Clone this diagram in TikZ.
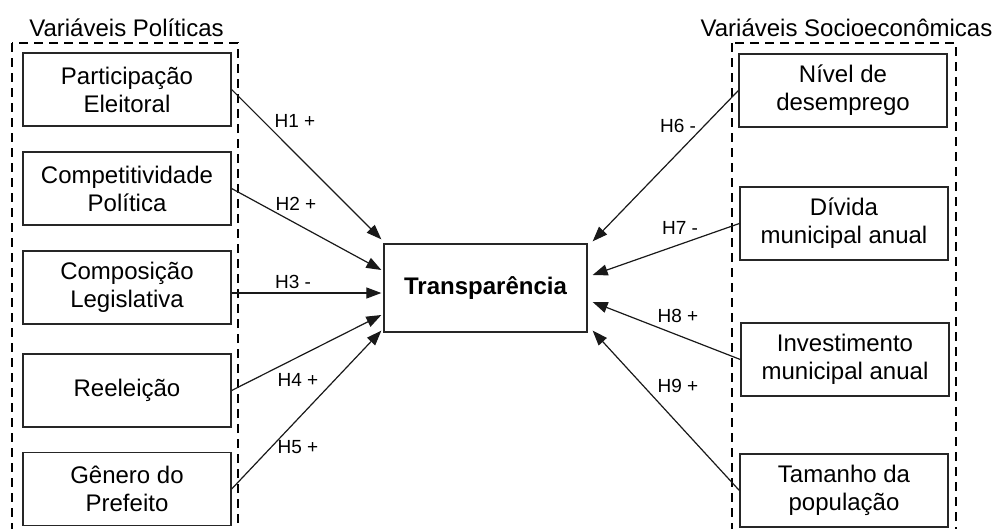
\documentclass[tikz,border=0pt]{standalone}
\usepackage{fontspec}
\setmainfont{Liberation Sans}
\usetikzlibrary{arrows.meta}
\begin{document}
\begin{tikzpicture}[x=1pt,y=-1pt,
  var/.style={draw=black!85, line width=1.3pt, minimum width=208pt, minimum height=73pt,
    align=center, inner sep=0pt, font=\fontsize{24}{28}\selectfont},
  grp/.style={draw=black, line width=2.6pt, dash pattern=on 9pt off 6pt},
  ttl/.style={anchor=base, inner sep=0pt, font=\fontsize{24}{28}\selectfont},
  hyp/.style={inner sep=0pt, font=\fontsize{19}{22}\selectfont},
  arr/.style={draw=black!90, line width=1.2pt, -{Triangle[length=15pt,width=11pt]}}
]
\clip (0,0) rectangle (996,528);
% groups
\draw[grp] (12,43) rectangle (238,545);
\draw[grp] (732,43) rectangle (956,545);
\node[ttl] (tl) at (126.5,36) {Variáveis Políticas};
\node[ttl] (tr) at (846.5,36) {Variáveis Socioeconômicas};
% left variables
\node[var] (L1) at (127,89.5) {Participação\\Eleitoral};
\node[var] (L2) at (127,188.5) {Competitividade\\Política};
\node[var] (L3) at (127,287.5) {Composição\\Legislativa};
\node[var] (L4) at (127,390.5) {Reeleição};
\node[var] (L5) at (127,489) {Gênero do\\Prefeito};
% right variables
\node[var] (R1) at (843,90.5) {Nível de\\desemprego};
\node[var] (R2) at (844,223.5) {Dívida\\municipal anual};
\node[var] (R3) at (845,359.5) {Investimento\\municipal anual};
\node[var] (R4) at (844,490.5) {Tamanho da\\população};
% center
\node[draw=black!85, line width=1.3pt, minimum width=203pt, minimum height=88pt, inner sep=0pt,
  font=\fontsize{24}{28}\selectfont\bfseries] (T) at (485.5,288) {Transparência};
% arrow targets
\coordinate (t1) at ([xshift=-2pt,yshift=4pt]T.north west);
\coordinate (t2) at ([xshift=-2pt,yshift=18pt]T.west);
\coordinate (t3) at ([xshift=-2pt,yshift=-5pt]T.west);
\coordinate (t4) at ([xshift=-2pt,yshift=-27pt]T.west);
\coordinate (t5) at ([xshift=-2pt,yshift=2pt]T.south west);
\coordinate (t6) at ([xshift=5pt,yshift=2pt]T.north east);
\coordinate (t7) at ([xshift=5pt,yshift=13pt]T.east);
\coordinate (t8) at ([xshift=5pt,yshift=-14pt]T.east);
\coordinate (t9) at ([xshift=5pt,yshift=2pt]T.south east);
% arrows
\draw[arr] (L1.east) -- (t1);
\draw[arr] (L2.east) -- (t2);
\draw[arr] (L3.east |- t3) -- (t3);
\draw[arr] (L4.east) -- (t4);
\draw[arr] (L5.east) -- (t5);
\draw[arr] (R1.west) -- (t6);
\draw[arr] (R2.west) -- (t7);
\draw[arr] (R3.west) -- (t8);
\draw[arr] (R4.west) -- (t9);
% labels
\node[hyp] (h1) at (295,121) {H1 +};
\node[hyp] (h2) at (296,204) {H2 +};
\node[hyp] (h3) at (293,282) {H3 -};
\node[hyp] (h4) at (298,380) {H4 +};
\node[hyp] (h5) at (298,447) {H5 +};
\node[hyp] (h6) at (678,126) {H6 -};
\node[hyp] (h7) at (680,228) {H7 -};
\node[hyp] (h8) at (678,316) {H8 +};
\node[hyp] (h9) at (678,386) {H9 +};
\end{tikzpicture}
\end{document}
